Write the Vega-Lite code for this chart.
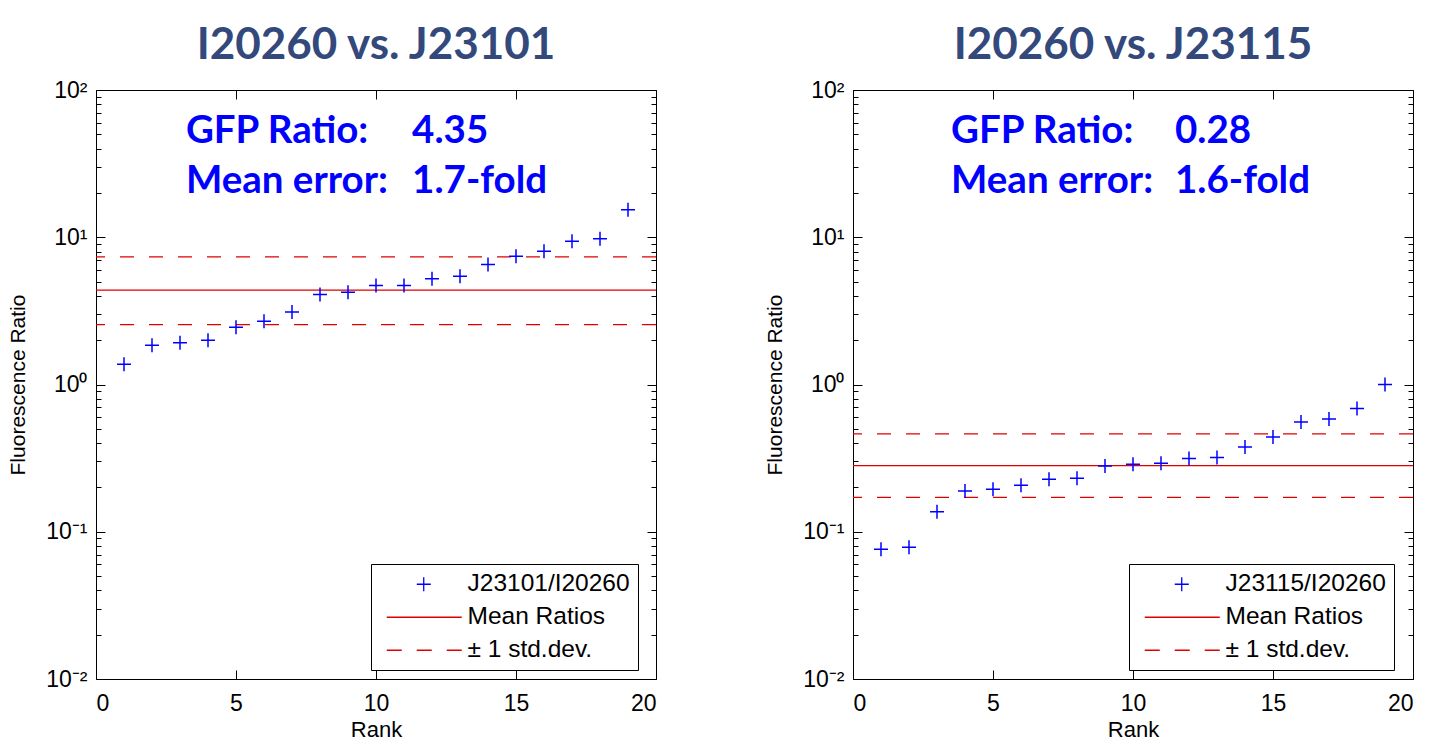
{
  "$schema": "https://vega.github.io/schema/vega-lite/v6.json",
  "background": "white",
  "padding": {"left": 7, "top": 23, "right": 0, "bottom": 0},
  "spacing": 106,
  "config": {
    "view": {"stroke": "black", "strokeWidth": 1},
    "font": "Liberation Sans",
    "axis": {
      "domain": false,
      "grid": false,
      "labelFont": "Liberation Sans",
      "labelFontSize": 23,
      "labelColor": "black",
      "titleFont": "Liberation Sans",
      "titleFontSize": 22,
      "titleFontWeight": "normal",
      "titleColor": "black",
      "tickColor": "black",
      "tickWidth": 1
    }
  },
  "datasets": {
    "ptsL": [
      {"rank": 1, "ratio": 1.37, "series": "J23101/I20260"},
      {"rank": 2, "ratio": 1.85, "series": "J23101/I20260"},
      {"rank": 3, "ratio": 1.92, "series": "J23101/I20260"},
      {"rank": 4, "ratio": 2.0, "series": "J23101/I20260"},
      {"rank": 5, "ratio": 2.45, "series": "J23101/I20260"},
      {"rank": 6, "ratio": 2.69, "series": "J23101/I20260"},
      {"rank": 7, "ratio": 3.11, "series": "J23101/I20260"},
      {"rank": 8, "ratio": 4.08, "series": "J23101/I20260"},
      {"rank": 9, "ratio": 4.23, "series": "J23101/I20260"},
      {"rank": 10, "ratio": 4.7, "series": "J23101/I20260"},
      {"rank": 11, "ratio": 4.7, "series": "J23101/I20260"},
      {"rank": 12, "ratio": 5.22, "series": "J23101/I20260"},
      {"rank": 13, "ratio": 5.44, "series": "J23101/I20260"},
      {"rank": 14, "ratio": 6.53, "series": "J23101/I20260"},
      {"rank": 15, "ratio": 7.43, "series": "J23101/I20260"},
      {"rank": 16, "ratio": 8.03, "series": "J23101/I20260"},
      {"rank": 17, "ratio": 9.4, "series": "J23101/I20260"},
      {"rank": 18, "ratio": 9.75, "series": "J23101/I20260"},
      {"rank": 19, "ratio": 15.4, "series": "J23101/I20260"}
    ],
    "ptsR": [
      {"rank": 1, "ratio": 0.0762, "series": "J23115/I20260"},
      {"rank": 2, "ratio": 0.0784, "series": "J23115/I20260"},
      {"rank": 3, "ratio": 0.1365, "series": "J23115/I20260"},
      {"rank": 4, "ratio": 0.189, "series": "J23115/I20260"},
      {"rank": 5, "ratio": 0.194, "series": "J23115/I20260"},
      {"rank": 6, "ratio": 0.207, "series": "J23115/I20260"},
      {"rank": 7, "ratio": 0.227, "series": "J23115/I20260"},
      {"rank": 8, "ratio": 0.231, "series": "J23115/I20260"},
      {"rank": 9, "ratio": 0.28, "series": "J23115/I20260"},
      {"rank": 10, "ratio": 0.287, "series": "J23115/I20260"},
      {"rank": 11, "ratio": 0.292, "series": "J23115/I20260"},
      {"rank": 12, "ratio": 0.314, "series": "J23115/I20260"},
      {"rank": 13, "ratio": 0.319, "series": "J23115/I20260"},
      {"rank": 14, "ratio": 0.377, "series": "J23115/I20260"},
      {"rank": 15, "ratio": 0.44, "series": "J23115/I20260"},
      {"rank": 16, "ratio": 0.557, "series": "J23115/I20260"},
      {"rank": 17, "ratio": 0.582, "series": "J23115/I20260"},
      {"rank": 18, "ratio": 0.687, "series": "J23115/I20260"},
      {"rank": 19, "ratio": 1.0, "series": "J23115/I20260"}
    ],
    "rulesL": [
      {"series": "Mean Ratios", "value": 4.37},
      {"series": "± 1 std.dev.", "value": 7.36},
      {"series": "± 1 std.dev.", "value": 2.55}
    ],
    "rulesR": [
      {"series": "Mean Ratios", "value": 0.281},
      {"series": "± 1 std.dev.", "value": 0.462},
      {"series": "± 1 std.dev.", "value": 0.1714}
    ],
    "annotL": [
      {"labels": ["GFP Ratio:", "Mean error:"], "numbers": ["4.35", "1.7-fold"]}
    ],
    "annotR": [
      {"labels": ["GFP Ratio:", "Mean error:"], "numbers": ["0.28", "1.6-fold"]}
    ]
  },
  "resolve": {"scale": {"color": "independent"}, "legend": {"color": "independent"}},
  "hconcat": [
    {
      "width": 560,
      "height": 589,
      "title": {"text": "I20260 vs. J23101", "font": "Lato", "fontWeight": "bold", "fontSize": 44, "color": "#34497B", "offset": -24, "anchor": "middle", "baseline": "alphabetic"},
      "layer": [
        {
          "data": {"name": "rulesL"},
          "mark": {"type": "rule", "strokeWidth": 1.3},
          "encoding": {
            "y": {"field": "value", "type": "quantitative",
              "scale": {"type": "log", "domain": [0.01, 100], "nice": false},
              "axis": {"orient": "right", "labels": false, "title": null,
                "values": [0.01,0.02,0.03,0.04,0.05,0.06,0.07,0.08,0.09,0.1,0.2,0.3,0.4,0.5,0.6,0.7,0.8,0.9,1,2,3,4,5,6,7,8,9,10,20,30,40,50,60,70,80,90,100],
                "tickSize": {"condition": {"test": "abs(log(datum.value)/LN10 - round(log(datum.value)/LN10)) < 0.001", "value": -9}, "value": -5}}},
            "color": {"field": "series", "type": "nominal",
              "scale": {"domain": ["J23101/I20260", "Mean Ratios", "± 1 std.dev."], "range": ["#0000ff", "#e00000", "#e00000"]},
              "legend": {"orient": "none", "legendX": 275, "legendY": 474, "title": null,
                "strokeColor": "black", "fillColor": "white", "padding": 8, "rowPadding": 8,
                "labelFont": "Liberation Sans", "labelFontSize": 24.5, "labelColor": "black", "labelOffset": 64, "labelLimit": 400,
                "symbolSize": 225, "symbolStrokeWidth": 1.3,
                "encode": {"symbols": {"update": {
                  "shape": {"signal": "datum.value === 'Mean Ratios' ? 'M-0.6,0H9.4' : datum.value === '± 1 std.dev.' ? 'M-0.6,0H1.4M3.4,0H5.4M7.4,0H9.4' : 'M3.4,0H5.27M4.33,-0.93V0.93'"},
                  "stroke": {"signal": "datum.value === 'Mean Ratios' || datum.value === '± 1 std.dev.' ? '#e00000' : '#0000ff'"},
                  "fill": {"value": "transparent"},
                  "strokeDash": {"value": []},
                  "size": {"value": 225},
                  "strokeWidth": {"value": 1.3},
                  "opacity": {"value": 1}
                }}}}},
            "strokeDash": {"field": "series", "type": "nominal",
              "scale": {"domain": ["Mean Ratios", "± 1 std.dev."], "range": [[1, 0], [14, 15]]}, "legend": null}
          }
        },
        {
          "data": {"name": "ptsL"},
          "mark": {"type": "point", "shape": "M-1,0H1M0,-1V1", "filled": false, "size": 196, "strokeWidth": 1.5, "opacity": 1},
          "encoding": {
            "x": {"field": "rank", "type": "quantitative", "scale": {"domain": [0, 20], "nice": false},
              "axis": {"orient": "bottom", "values": [0, 5, 10, 15, 20], "title": "Rank", "tickSize": -9, "labelPadding": 22, "titlePadding": 4}},
            "y": {"field": "ratio", "type": "quantitative", "scale": {"type": "log", "domain": [0.01, 100], "nice": false},
              "axis": {"orient": "left", "title": "Fluorescence Ratio", "titleFontSize": 21, "titlePadding": 17,
                "values": [0.01,0.02,0.03,0.04,0.05,0.06,0.07,0.08,0.09,0.1,0.2,0.3,0.4,0.5,0.6,0.7,0.8,0.9,1,2,3,4,5,6,7,8,9,10,20,30,40,50,60,70,80,90,100],
                "labelExpr": "abs(log(datum.value)/LN10 - round(log(datum.value)/LN10)) < 0.001 ? (round(log(datum.value)/LN10) == 2 ? '10²' : round(log(datum.value)/LN10) == 1 ? '10¹' : round(log(datum.value)/LN10) == 0 ? '10⁰' : round(log(datum.value)/LN10) == -1 ? '10⁻¹' : '10⁻²') : ''",
                "labelPadding": 18,
                "tickSize": {"condition": {"test": "abs(log(datum.value)/LN10 - round(log(datum.value)/LN10)) < 0.001", "value": -9}, "value": -5}}},
            "color": {"field": "series", "type": "nominal"}
          }
        },
        {
          "data": {"name": "annotL"},
          "mark": {"type": "text", "font": "Lato", "fontWeight": "bold", "fontSize": 38.5, "color": "#0000ff", "align": "left", "baseline": "alphabetic", "lineHeight": 50},
          "encoding": {
            "x": {"datum": 3.21, "type": "quantitative", "axis": {"orient": "top", "labels": false, "title": null, "values": [0, 5, 10, 15, 20], "tickSize": -9}},
            "y": {"datum": 43.9, "type": "quantitative", "axis": null},
            "text": {"field": "labels"}
          }
        },
        {
          "data": {"name": "annotL"},
          "mark": {"type": "text", "font": "Lato", "fontWeight": "bold", "fontSize": 38.5, "color": "#0000ff", "align": "left", "baseline": "alphabetic", "lineHeight": 50},
          "encoding": {
            "x": {"datum": 11.29, "type": "quantitative", "axis": null},
            "y": {"datum": 43.9, "type": "quantitative", "axis": null},
            "text": {"field": "numbers"}
          }
        }
      ]
    },
    {
      "width": 560,
      "height": 589,
      "title": {"text": "I20260 vs. J23115", "font": "Lato", "fontWeight": "bold", "fontSize": 44, "color": "#34497B", "offset": -24, "anchor": "middle", "baseline": "alphabetic"},
      "layer": [
        {
          "data": {"name": "rulesR"},
          "mark": {"type": "rule", "strokeWidth": 1.3},
          "encoding": {
            "y": {"field": "value", "type": "quantitative",
              "scale": {"type": "log", "domain": [0.01, 100], "nice": false},
              "axis": {"orient": "right", "labels": false, "title": null,
                "values": [0.01,0.02,0.03,0.04,0.05,0.06,0.07,0.08,0.09,0.1,0.2,0.3,0.4,0.5,0.6,0.7,0.8,0.9,1,2,3,4,5,6,7,8,9,10,20,30,40,50,60,70,80,90,100],
                "tickSize": {"condition": {"test": "abs(log(datum.value)/LN10 - round(log(datum.value)/LN10)) < 0.001", "value": -9}, "value": -5}}},
            "color": {"field": "series", "type": "nominal",
              "scale": {"domain": ["J23115/I20260", "Mean Ratios", "± 1 std.dev."], "range": ["#0000ff", "#e00000", "#e00000"]},
              "legend": {"orient": "none", "legendX": 276, "legendY": 474, "title": null,
                "strokeColor": "black", "fillColor": "white", "padding": 8, "rowPadding": 8,
                "labelFont": "Liberation Sans", "labelFontSize": 24.5, "labelColor": "black", "labelOffset": 64, "labelLimit": 400,
                "symbolSize": 225, "symbolStrokeWidth": 1.3,
                "encode": {"symbols": {"update": {
                  "shape": {"signal": "datum.value === 'Mean Ratios' ? 'M-0.6,0H9.4' : datum.value === '± 1 std.dev.' ? 'M-0.6,0H1.4M3.4,0H5.4M7.4,0H9.4' : 'M3.4,0H5.27M4.33,-0.93V0.93'"},
                  "stroke": {"signal": "datum.value === 'Mean Ratios' || datum.value === '± 1 std.dev.' ? '#e00000' : '#0000ff'"},
                  "fill": {"value": "transparent"},
                  "strokeDash": {"value": []},
                  "size": {"value": 225},
                  "strokeWidth": {"value": 1.3},
                  "opacity": {"value": 1}
                }}}}},
            "strokeDash": {"field": "series", "type": "nominal",
              "scale": {"domain": ["Mean Ratios", "± 1 std.dev."], "range": [[1, 0], [14, 15]]}, "legend": null}
          }
        },
        {
          "data": {"name": "ptsR"},
          "mark": {"type": "point", "shape": "M-1,0H1M0,-1V1", "filled": false, "size": 196, "strokeWidth": 1.5, "opacity": 1},
          "encoding": {
            "x": {"field": "rank", "type": "quantitative", "scale": {"domain": [0, 20], "nice": false},
              "axis": {"orient": "bottom", "values": [0, 5, 10, 15, 20], "title": "Rank", "tickSize": -9, "labelPadding": 22, "titlePadding": 4}},
            "y": {"field": "ratio", "type": "quantitative", "scale": {"type": "log", "domain": [0.01, 100], "nice": false},
              "axis": {"orient": "left", "title": "Fluorescence Ratio", "titleFontSize": 21, "titlePadding": 17,
                "values": [0.01,0.02,0.03,0.04,0.05,0.06,0.07,0.08,0.09,0.1,0.2,0.3,0.4,0.5,0.6,0.7,0.8,0.9,1,2,3,4,5,6,7,8,9,10,20,30,40,50,60,70,80,90,100],
                "labelExpr": "abs(log(datum.value)/LN10 - round(log(datum.value)/LN10)) < 0.001 ? (round(log(datum.value)/LN10) == 2 ? '10²' : round(log(datum.value)/LN10) == 1 ? '10¹' : round(log(datum.value)/LN10) == 0 ? '10⁰' : round(log(datum.value)/LN10) == -1 ? '10⁻¹' : '10⁻²') : ''",
                "labelPadding": 18,
                "tickSize": {"condition": {"test": "abs(log(datum.value)/LN10 - round(log(datum.value)/LN10)) < 0.001", "value": -9}, "value": -5}}},
            "color": {"field": "series", "type": "nominal"}
          }
        },
        {
          "data": {"name": "annotR"},
          "mark": {"type": "text", "font": "Lato", "fontWeight": "bold", "fontSize": 38.5, "color": "#0000ff", "align": "left", "baseline": "alphabetic", "lineHeight": 50},
          "encoding": {
            "x": {"datum": 3.5, "type": "quantitative", "axis": {"orient": "top", "labels": false, "title": null, "values": [0, 5, 10, 15, 20], "tickSize": -9}},
            "y": {"datum": 43.9, "type": "quantitative", "axis": null},
            "text": {"field": "labels"}
          }
        },
        {
          "data": {"name": "annotR"},
          "mark": {"type": "text", "font": "Lato", "fontWeight": "bold", "fontSize": 38.5, "color": "#0000ff", "align": "left", "baseline": "alphabetic", "lineHeight": 50},
          "encoding": {
            "x": {"datum": 11.5, "type": "quantitative", "axis": null},
            "y": {"datum": 43.9, "type": "quantitative", "axis": null},
            "text": {"field": "numbers"}
          }
        }
      ]
    }
  ]
}
